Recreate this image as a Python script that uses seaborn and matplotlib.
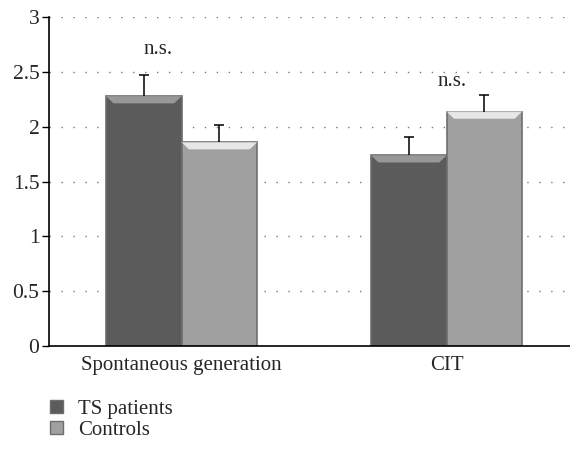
import matplotlib
matplotlib.use("Agg")
import matplotlib.pyplot as plt
import pandas as pd
import seaborn as sns
from matplotlib.patches import Polygon, Rectangle

tasks = ["Spontaneous generation", "CIT"]
groups = ["TS patients", "Controls"]
ts_means = [2.28, 1.74]
ctrl_means = [1.86, 2.14]
ts_err = [0.19, 0.17]
ctrl_err = [0.16, 0.15]
ns_labels = ["n.s.", "n.s."]
ns_pos = [(-0.09, 2.71), (1.02, 2.41)]

colors = {"TS patients": "#5b5b5b", "Controls": "#a0a0a0"}
bevel = {"TS patients": "#a3a3a3", "Controls": "#f4f4f4"}

df = pd.DataFrame({
    "task": tasks * 2,
    "group": [groups[0]] * 2 + [groups[1]] * 2,
    "value": ts_means + ctrl_means,
})

sns.set_style("white")
plt.rcParams["font.family"] = ["Liberation Serif", "DejaVu Serif"]
plt.rcParams["lines.scale_dashes"] = False

fig = plt.figure(figsize=(5.7, 4.57), dpi=100)
ax = fig.add_axes([0.086, 0.243, 0.93, 0.719])

sns.barplot(data=df, x="task", y="value", hue="group", palette=colors,
            width=0.57, edgecolor="#6e6e6e", linewidth=1.2, ax=ax,
            legend=False, zorder=2)

# error bars (upper only) + bevels, positioned from the drawn bars
errs = {groups[0]: ts_err, groups[1]: ctrl_err}
for g, cont in zip(groups, ax.containers):
    for i, bar in enumerate(cont):
        x0, w, h = bar.get_x(), bar.get_width(), bar.get_height()
        xc = x0 + w / 2
        eb = ax.errorbar(xc, h, yerr=[[0], [errs[g][i]]], fmt="none",
                         ecolor="black", elinewidth=1.1, capsize=3.5,
                         capthick=1.1, zorder=3)
        eb[1][0].set_visible(False)  # drop the lower cap
        dh, dx = 0.065, 0.028
        ax.add_patch(Polygon([(x0, h), (x0 + w, h), (x0 + w - dx, h - dh),
                              (x0 + dx, h - dh)], closed=True,
                             facecolor=bevel[g], edgecolor="none",
                             alpha=0.85, zorder=2.5))

for lab, (x, y) in zip(ns_labels, ns_pos):
    ax.text(x, y, lab, ha="center", va="center", fontsize=15)

ax.set_ylim(0, 3)
ax.set_xlim(-0.5, 1.5)
ax.set_yticks([0, 0.5, 1, 1.5, 2, 2.5, 3])
ax.set_yticklabels(["0", "0.5", "1", "1.5", "2", "2.5", "3"])
ax.yaxis.grid(True, color="#7a7a7a", linestyle=(0, (1.0, 7.6)), linewidth=1.0)
ax.set_axisbelow(True)
ax.set_xlabel("")
ax.set_ylabel("")
ax.set_xticks([0, 1])
ax.set_xticklabels(tasks)
ax.set_xticks([-0.5, 0.5, 1.5], minor=True)
ax.tick_params(axis="x", which="major", length=0, labelsize=15, pad=7)
ax.tick_params(axis="x", which="minor", length=6, width=1, color="black",
               direction="out")
ax.tick_params(axis="y", length=5, width=1, color="black", direction="out",
               labelsize=15.5, left=True, pad=2)
for s in ["top", "right"]:
    ax.spines[s].set_visible(False)
for s in ["left", "bottom"]:
    ax.spines[s].set_color("black")
    ax.spines[s].set_linewidth(1.2)

# legend
handles = [Rectangle((0, 0), 1, 1, facecolor=colors[g], edgecolor="#6e6e6e")
           for g in groups]
fig.legend(handles, groups, loc="lower left", bbox_to_anchor=(0.066, 0.01),
           frameon=False, fontsize=15, handlelength=0.6, handleheight=0.6,
           handletextpad=0.75, labelspacing=0.1, borderaxespad=0.2)

fig.savefig("out.png", dpi=100)
